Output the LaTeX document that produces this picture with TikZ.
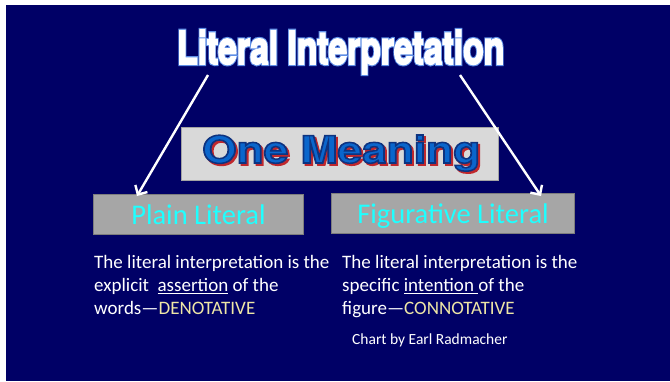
\documentclass[tikz,border=0pt]{standalone}
\usepackage{fontspec}
\setmainfont{Carlito}
\newfontfamily\heavyfont[BoldFeatures={FakeBold=4}]{TeX Gyre Heros}
\newfontfamily\rimfont[BoldFeatures={FakeBold=9}]{TeX Gyre Heros}
\usepackage{tikz}
\usetikzlibrary{arrows.meta,calc,positioning}
\usepackage{xcolor}

\definecolor{slidebg}{HTML}{000066}
\definecolor{titlerim}{HTML}{5F8FE6}
\definecolor{meanblue}{HTML}{0A66CC}
\definecolor{meanshadow}{HTML}{C0282D}
\definecolor{boxlight}{HTML}{D9D9D9}
\definecolor{boxgray}{HTML}{A6A6A6}
\definecolor{labelcyan}{HTML}{1FFFFF}
\definecolor{paleyellow}{HTML}{EEE6A6}

% fake-bold glyphs are stroked in the stroke colour, so set it apart from the fill
\newcommand\edged[2]{\special{pdf:code q #1 RG}#2\special{pdf:code Q}}

\begin{document}
\begin{tikzpicture}[x=1pt,y=-1pt,
    graybox/.style={draw=#1!75!black,line width=1pt,inner sep=0pt,anchor=north west},
    label/.style={text=labelcyan,font=\fontsize{28.5}{30}\selectfont,text height=20pt,text depth=0pt},
    body/.style={text=white,align=left,anchor=north west,inner sep=0pt,
        font=\fontsize{19}{23}\selectfont},
    heavy/.style={anchor=base west,inner sep=0pt},
    arrowline/.style={white,line width=2.4pt,-{Straight Barb[length=7pt,width=14pt]}}]
    \useasboundingbox (0,0) rectangle (670,381);
    \fill[white] (0,0) rectangle (670,381);
    \fill[slidebg] (6,5) rectangle (670,381);

    \node[heavy,text=titlerim] (titlerim) at (177,64)
        {\resizebox{327pt}{34pt}{\rimfont\bfseries Literal Interpretation}};
    \node[heavy,text=white] (title) at (177,64)
        {\resizebox{327pt}{34pt}{\heavyfont\bfseries Literal Interpretation}};

    \node[graybox=boxlight,fill=boxlight,minimum width=317pt,minimum height=53pt] (mean) at (181,127) {};
    \node[heavy,text=meanshadow] (meanshade) at (204,165)
        {\resizebox{278pt}{28pt}{\heavyfont\bfseries One Meaning}};
    \node[heavy,text=meanblue] (meantext) at (202,163)
        {\edged{0.05 0.2 0.5}{\resizebox{278pt}{28pt}{\heavyfont\bfseries One Meaning}}};

    \node[graybox=boxgray,fill=boxgray,minimum width=210pt,minimum height=40pt,label] (plain) at (93,194) {Plain Literal};
    \node[graybox=boxgray,fill=boxgray,minimum width=243pt,minimum height=40pt,label] (fig) at (331,193) {Figurative Literal};

    \draw[arrowline] ($(title.base west)+(31,11)$) -- ($(plain.north west)+(44,2)$);
    \draw[arrowline] ($(title.base west)+(283,11)$) -- ($(fig.north east)+(-34,3)$);

    \node[body] (plaintext) at (94,255) {The literal interpretation is the\\
        explicit \ \underline{assertion} of the\\
        words—\textcolor{paleyellow}{DENOTATIVE}};
    \node[body] (figtext) at (342,255) {The literal interpretation is the\\
        specific \underline{intention\ }of the\\
        figure—\textcolor{paleyellow}{CONNOTATIVE}};
    \node[text=white,anchor=base west,inner sep=0pt,font=\fontsize{15.5}{18}\selectfont] (credit) at (352,344) {Chart by Earl Radmacher};
\end{tikzpicture}
\end{document}
